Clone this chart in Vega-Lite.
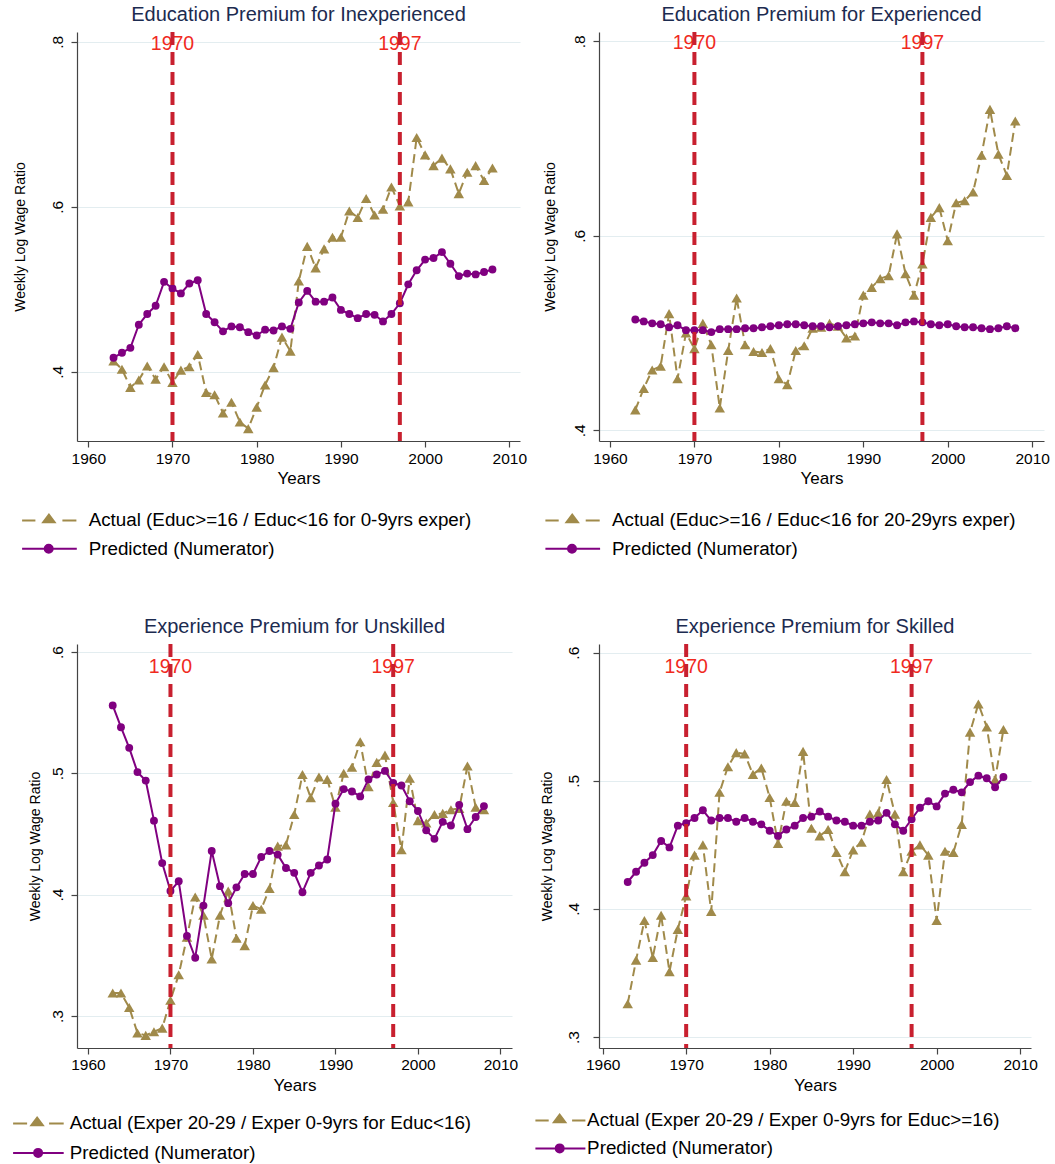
{
  "$schema": "https://vega.github.io/schema/vega-lite/v6.json",
  "background": "white",
  "padding": {"left": 8, "top": 5, "right": 5, "bottom": 5},
  "columns": 2,
  "align": "none",
  "bounds": "flush",
  "spacing": {"row": 203, "column": 79},
  "resolve": {"scale": {"color": "independent"}, "legend": {"color": "independent"}},
  "datasets": {
    "events": [{"year": 1970, "label": "1970"}, {"year": 1997, "label": "1997"}],
    "p1": [
      {"year":1963,"actual":0.413,"predicted":0.417},{"year":1964,"actual":0.403,"predicted":0.423},{"year":1965,"actual":0.381,"predicted":0.429},{"year":1966,"actual":0.390,"predicted":0.457},{"year":1967,"actual":0.407,"predicted":0.470},{"year":1968,"actual":0.391,"predicted":0.480},{"year":1969,"actual":0.406,"predicted":0.509},{"year":1970,"actual":0.387,"predicted":0.501},{"year":1971,"actual":0.402,"predicted":0.495},{"year":1972,"actual":0.406,"predicted":0.507},{"year":1973,"actual":0.421,"predicted":0.511},{"year":1974,"actual":0.375,"predicted":0.470},{"year":1975,"actual":0.372,"predicted":0.460},{"year":1976,"actual":0.350,"predicted":0.449},{"year":1977,"actual":0.363,"predicted":0.455},{"year":1978,"actual":0.339,"predicted":0.454},{"year":1979,"actual":0.331,"predicted":0.448},{"year":1980,"actual":0.357,"predicted":0.444},{"year":1981,"actual":0.384,"predicted":0.451},{"year":1982,"actual":0.405,"predicted":0.450},{"year":1983,"actual":0.442,"predicted":0.455},{"year":1984,"actual":0.425,"predicted":0.452},{"year":1985,"actual":0.510,"predicted":0.484},{"year":1986,"actual":0.552,"predicted":0.498},{"year":1987,"actual":0.526,"predicted":0.485},{"year":1988,"actual":0.549,"predicted":0.485},{"year":1989,"actual":0.563,"predicted":0.490},{"year":1990,"actual":0.563,"predicted":0.475},{"year":1991,"actual":0.595,"predicted":0.470},{"year":1992,"actual":0.587,"predicted":0.465},{"year":1993,"actual":0.610,"predicted":0.470},{"year":1994,"actual":0.590,"predicted":0.469},{"year":1995,"actual":0.597,"predicted":0.461},{"year":1996,"actual":0.624,"predicted":0.470},{"year":1997,"actual":0.601,"predicted":0.483},{"year":1998,"actual":0.606,"predicted":0.506},{"year":1999,"actual":0.684,"predicted":0.523},{"year":2000,"actual":0.663,"predicted":0.536},{"year":2001,"actual":0.650,"predicted":0.538},{"year":2002,"actual":0.659,"predicted":0.545},{"year":2003,"actual":0.646,"predicted":0.531},{"year":2004,"actual":0.616,"predicted":0.516},{"year":2005,"actual":0.642,"predicted":0.519},{"year":2006,"actual":0.650,"predicted":0.518},{"year":2007,"actual":0.632,"predicted":0.521},{"year":2008,"actual":0.647,"predicted":0.524}
    ],
    "p2": [
      {"year":1963,"actual":0.421,"predicted":0.514},{"year":1964,"actual":0.443,"predicted":0.512},{"year":1965,"actual":0.462,"predicted":0.510},{"year":1966,"actual":0.466,"predicted":0.509},{"year":1967,"actual":0.520,"predicted":0.506},{"year":1968,"actual":0.453,"predicted":0.508},{"year":1969,"actual":0.500,"predicted":0.503},{"year":1970,"actual":0.484,"predicted":0.503},{"year":1971,"actual":0.510,"predicted":0.503},{"year":1972,"actual":0.488,"predicted":0.501},{"year":1973,"actual":0.423,"predicted":0.504},{"year":1974,"actual":0.482,"predicted":0.504},{"year":1975,"actual":0.536,"predicted":0.504},{"year":1976,"actual":0.488,"predicted":0.505},{"year":1977,"actual":0.481,"predicted":0.505},{"year":1978,"actual":0.480,"predicted":0.506},{"year":1979,"actual":0.484,"predicted":0.507},{"year":1980,"actual":0.453,"predicted":0.508},{"year":1981,"actual":0.447,"predicted":0.509},{"year":1982,"actual":0.482,"predicted":0.509},{"year":1983,"actual":0.487,"predicted":0.508},{"year":1984,"actual":0.505,"predicted":0.507},{"year":1985,"actual":0.506,"predicted":0.507},{"year":1986,"actual":0.510,"predicted":0.506},{"year":1987,"actual":0.507,"predicted":0.507},{"year":1988,"actual":0.495,"predicted":0.508},{"year":1989,"actual":0.497,"predicted":0.509},{"year":1990,"actual":0.539,"predicted":0.510},{"year":1991,"actual":0.547,"predicted":0.511},{"year":1992,"actual":0.556,"predicted":0.510},{"year":1993,"actual":0.559,"predicted":0.510},{"year":1994,"actual":0.602,"predicted":0.508},{"year":1995,"actual":0.561,"predicted":0.511},{"year":1996,"actual":0.539,"predicted":0.512},{"year":1997,"actual":0.571,"predicted":0.511},{"year":1998,"actual":0.619,"predicted":0.509},{"year":1999,"actual":0.629,"predicted":0.508},{"year":2000,"actual":0.595,"predicted":0.509},{"year":2001,"actual":0.634,"predicted":0.507},{"year":2002,"actual":0.636,"predicted":0.506},{"year":2003,"actual":0.645,"predicted":0.506},{"year":2004,"actual":0.683,"predicted":0.505},{"year":2005,"actual":0.730,"predicted":0.504},{"year":2006,"actual":0.684,"predicted":0.505},{"year":2007,"actual":0.662,"predicted":0.507},{"year":2008,"actual":0.718,"predicted":0.505}
    ],
    "p3": [
      {"year":1963,"actual":0.319,"predicted":0.556},{"year":1964,"actual":0.319,"predicted":0.538},{"year":1965,"actual":0.307,"predicted":0.521},{"year":1966,"actual":0.286,"predicted":0.501},{"year":1967,"actual":0.284,"predicted":0.494},{"year":1968,"actual":0.287,"predicted":0.461},{"year":1969,"actual":0.290,"predicted":0.426},{"year":1970,"actual":0.313,"predicted":0.403},{"year":1971,"actual":0.334,"predicted":0.411},{"year":1972,"actual":0.365,"predicted":0.366},{"year":1973,"actual":0.398,"predicted":0.348},{"year":1974,"actual":0.383,"predicted":0.391},{"year":1975,"actual":0.347,"predicted":0.436},{"year":1976,"actual":0.383,"predicted":0.407},{"year":1977,"actual":0.403,"predicted":0.393},{"year":1978,"actual":0.364,"predicted":0.406},{"year":1979,"actual":0.358,"predicted":0.417},{"year":1980,"actual":0.391,"predicted":0.417},{"year":1981,"actual":0.388,"predicted":0.431},{"year":1982,"actual":0.405,"predicted":0.436},{"year":1983,"actual":0.440,"predicted":0.433},{"year":1984,"actual":0.441,"predicted":0.422},{"year":1985,"actual":0.466,"predicted":0.418},{"year":1986,"actual":0.499,"predicted":0.402},{"year":1987,"actual":0.480,"predicted":0.418},{"year":1988,"actual":0.497,"predicted":0.424},{"year":1989,"actual":0.495,"predicted":0.429},{"year":1990,"actual":0.472,"predicted":0.475},{"year":1991,"actual":0.500,"predicted":0.487},{"year":1992,"actual":0.505,"predicted":0.485},{"year":1993,"actual":0.526,"predicted":0.481},{"year":1994,"actual":0.489,"predicted":0.495},{"year":1995,"actual":0.509,"predicted":0.499},{"year":1996,"actual":0.515,"predicted":0.502},{"year":1997,"actual":0.476,"predicted":0.492},{"year":1998,"actual":0.437,"predicted":0.490},{"year":1999,"actual":0.496,"predicted":0.477},{"year":2000,"actual":0.461,"predicted":0.469},{"year":2001,"actual":0.459,"predicted":0.453},{"year":2002,"actual":0.466,"predicted":0.446},{"year":2003,"actual":0.467,"predicted":0.460},{"year":2004,"actual":0.470,"predicted":0.457},{"year":2005,"actual":0.471,"predicted":0.474},{"year":2006,"actual":0.506,"predicted":0.454},{"year":2007,"actual":0.472,"predicted":0.464},{"year":2008,"actual":0.470,"predicted":0.473}
    ],
    "p4": [
      {"year":1963,"actual":0.326,"predicted":0.421},{"year":1964,"actual":0.360,"predicted":0.429},{"year":1965,"actual":0.391,"predicted":0.436},{"year":1966,"actual":0.362,"predicted":0.442},{"year":1967,"actual":0.395,"predicted":0.453},{"year":1968,"actual":0.351,"predicted":0.448},{"year":1969,"actual":0.384,"predicted":0.465},{"year":1970,"actual":0.410,"predicted":0.467},{"year":1971,"actual":0.442,"predicted":0.471},{"year":1972,"actual":0.450,"predicted":0.477},{"year":1973,"actual":0.398,"predicted":0.469},{"year":1974,"actual":0.491,"predicted":0.471},{"year":1975,"actual":0.511,"predicted":0.471},{"year":1976,"actual":0.522,"predicted":0.468},{"year":1977,"actual":0.521,"predicted":0.471},{"year":1978,"actual":0.505,"predicted":0.468},{"year":1979,"actual":0.510,"predicted":0.466},{"year":1980,"actual":0.487,"predicted":0.461},{"year":1981,"actual":0.451,"predicted":0.457},{"year":1982,"actual":0.484,"predicted":0.462},{"year":1983,"actual":0.483,"predicted":0.465},{"year":1984,"actual":0.523,"predicted":0.471},{"year":1985,"actual":0.463,"predicted":0.472},{"year":1986,"actual":0.457,"predicted":0.476},{"year":1987,"actual":0.462,"predicted":0.472},{"year":1988,"actual":0.444,"predicted":0.469},{"year":1989,"actual":0.429,"predicted":0.468},{"year":1990,"actual":0.446,"predicted":0.465},{"year":1991,"actual":0.452,"predicted":0.465},{"year":1992,"actual":0.474,"predicted":0.468},{"year":1993,"actual":0.475,"predicted":0.469},{"year":1994,"actual":0.501,"predicted":0.475},{"year":1995,"actual":0.474,"predicted":0.466},{"year":1996,"actual":0.429,"predicted":0.461},{"year":1997,"actual":0.445,"predicted":0.470},{"year":1998,"actual":0.450,"predicted":0.479},{"year":1999,"actual":0.442,"predicted":0.484},{"year":2000,"actual":0.391,"predicted":0.480},{"year":2001,"actual":0.445,"predicted":0.490},{"year":2002,"actual":0.444,"predicted":0.493},{"year":2003,"actual":0.466,"predicted":0.491},{"year":2004,"actual":0.538,"predicted":0.499},{"year":2005,"actual":0.560,"predicted":0.504},{"year":2006,"actual":0.542,"predicted":0.502},{"year":2007,"actual":0.501,"predicted":0.495},{"year":2008,"actual":0.540,"predicted":0.503}
    ]
  },
  "concat": [
    {
      "width": 443, "height": 409,
      "title": {"text": "Education Premium for Inexperienced"},
      "layer": [
        {"data": {"name": "p1"}, "transform": [{"fold": ["actual", "predicted"], "as": ["series", "value"]}, {"filter": "datum.series == 'actual'"}],
         "mark": {"type": "line", "strokeDash": [9, 5], "strokeWidth": 2},
         "encoding": {
           "x": {"field": "year", "type": "quantitative", "scale": {"domain": [1958.66, 2011.27], "nice": false, "zero": false}, "axis": {"values": [1960, 1970, 1980, 1990, 2000, 2010], "format": "d", "title": "Years", "labelFlush": false, "labelPadding": 4, "titlePadding": 4}},
           "y": {"field": "value", "type": "quantitative", "scale": {"domain": [0.316, 0.812], "nice": false, "zero": false}, "axis": {"values": [0.4, 0.6, 0.8], "labelExpr": "replace(format(datum.value,'.1f'),'0.','.')", "title": "Weekly Log Wage Ratio", "titlePadding": 23, "labelPadding": 6}},
           "color": {"field": "series", "type": "nominal", "scale": {"domain": ["actual", "predicted"], "range": ["#a08a4a", "#800080"]},
             "legend": {"title": null, "orient": "none", "legendX": -59.3, "legendY": 479, "rowPadding": 8.3, "labelOffset": 52.2,
               "labelExpr": "datum.value == 'actual' ? 'Actual (Educ>=16 / Educ<16 for 0-9yrs exper)' : 'Predicted (Numerator)'",
               "encode": {"symbols": {"update": {
                 "shape": [{"test": "datum.value == 'actual'", "value": "M-1,0H1.66M7.06,0H9.86M4.36,-1.15L5.5,0.38L3.22,0.38Z"}, {"value": "M-1,0H9.94M3.52,0A0.8,0.8,0,1,0,5.12,0A0.8,0.8,0,1,0,3.52,0Z"}],
                 "fill": [{"test": "datum.value == 'actual'", "value": "#a08a4a"}, {"value": "#800080"}],
                 "stroke": [{"test": "datum.value == 'actual'", "value": "#a08a4a"}, {"value": "#800080"}],
                 "strokeWidth": {"value": 2}, "opacity": {"value": 1}, "strokeDash": {"value": []}}}}}}
         }},
        {"data": {"name": "p1"}, "transform": [{"fold": ["actual", "predicted"], "as": ["series", "value"]}, {"filter": "datum.series == 'actual'"}],
         "mark": {"type": "point", "shape": "triangle-up", "filled": true, "size": 110, "opacity": 1},
         "encoding": {"x": {"field": "year", "type": "quantitative"}, "y": {"field": "value", "type": "quantitative"}, "color": {"field": "series", "type": "nominal"}}},
        {"data": {"name": "p1"}, "transform": [{"fold": ["actual", "predicted"], "as": ["series", "value"]}, {"filter": "datum.series == 'predicted'"}],
         "mark": {"type": "line", "strokeWidth": 2},
         "encoding": {"x": {"field": "year", "type": "quantitative"}, "y": {"field": "value", "type": "quantitative"}, "color": {"field": "series", "type": "nominal"}}},
        {"data": {"name": "p1"}, "transform": [{"fold": ["actual", "predicted"], "as": ["series", "value"]}, {"filter": "datum.series == 'predicted'"}],
         "mark": {"type": "point", "shape": "circle", "filled": true, "size": 62, "opacity": 1},
         "encoding": {"x": {"field": "year", "type": "quantitative"}, "y": {"field": "value", "type": "quantitative"}, "color": {"field": "series", "type": "nominal"}}},
        {"data": {"name": "events"}, "mark": {"type": "text", "color": "#f02a1e", "fontSize": 19.5, "align": "center", "baseline": "middle"},
         "encoding": {"x": {"field": "year", "type": "quantitative"}, "y": {"datum": 0.7976, "type": "quantitative"}, "text": {"field": "label"}}},
        {"data": {"name": "events"}, "mark": {"type": "rule", "color": "#c8202f", "strokeWidth": 4, "strokeDash": [13, 7]},
         "encoding": {"x": {"field": "year", "type": "quantitative"}}}
      ]
    },
    {
      "width": 445, "height": 409,
      "title": {"text": "Education Premium for Experienced"},
      "layer": [
        {"data": {"name": "p2"}, "transform": [{"fold": ["actual", "predicted"], "as": ["series", "value"]}, {"filter": "datum.series == 'actual'"}],
         "mark": {"type": "line", "strokeDash": [9, 5], "strokeWidth": 2},
         "encoding": {
           "x": {"field": "year", "type": "quantitative", "scale": {"domain": [1958.7, 2011.4], "nice": false, "zero": false}, "axis": {"values": [1960, 1970, 1980, 1990, 2000, 2010], "format": "d", "title": "Years", "labelFlush": false, "labelPadding": 4, "titlePadding": 4}},
           "y": {"field": "value", "type": "quantitative", "scale": {"domain": [0.389, 0.8096], "nice": false, "zero": false}, "axis": {"values": [0.4, 0.6, 0.8], "labelExpr": "replace(format(datum.value,'.1f'),'0.','.')", "title": "Weekly Log Wage Ratio", "titlePadding": 15, "labelPadding": 6}},
           "color": {"field": "series", "type": "nominal", "scale": {"domain": ["actual", "predicted"], "range": ["#a08a4a", "#800080"]},
             "legend": {"title": null, "orient": "none", "legendX": -58, "legendY": 479, "rowPadding": 8.3, "labelOffset": 52.2,
               "labelExpr": "datum.value == 'actual' ? 'Actual (Educ>=16 / Educ<16 for 20-29yrs exper)' : 'Predicted (Numerator)'",
               "encode": {"symbols": {"update": {
                 "shape": [{"test": "datum.value == 'actual'", "value": "M-1,0H1.66M7.06,0H9.86M4.36,-1.15L5.5,0.38L3.22,0.38Z"}, {"value": "M-1,0H9.94M3.52,0A0.8,0.8,0,1,0,5.12,0A0.8,0.8,0,1,0,3.52,0Z"}],
                 "fill": [{"test": "datum.value == 'actual'", "value": "#a08a4a"}, {"value": "#800080"}],
                 "stroke": [{"test": "datum.value == 'actual'", "value": "#a08a4a"}, {"value": "#800080"}],
                 "strokeWidth": {"value": 2}, "opacity": {"value": 1}, "strokeDash": {"value": []}}}}}}
         }},
        {"data": {"name": "p2"}, "transform": [{"fold": ["actual", "predicted"], "as": ["series", "value"]}, {"filter": "datum.series == 'actual'"}],
         "mark": {"type": "point", "shape": "triangle-up", "filled": true, "size": 110, "opacity": 1},
         "encoding": {"x": {"field": "year", "type": "quantitative"}, "y": {"field": "value", "type": "quantitative"}, "color": {"field": "series", "type": "nominal"}}},
        {"data": {"name": "p2"}, "transform": [{"fold": ["actual", "predicted"], "as": ["series", "value"]}, {"filter": "datum.series == 'predicted'"}],
         "mark": {"type": "line", "strokeWidth": 2},
         "encoding": {"x": {"field": "year", "type": "quantitative"}, "y": {"field": "value", "type": "quantitative"}, "color": {"field": "series", "type": "nominal"}}},
        {"data": {"name": "p2"}, "transform": [{"fold": ["actual", "predicted"], "as": ["series", "value"]}, {"filter": "datum.series == 'predicted'"}],
         "mark": {"type": "point", "shape": "circle", "filled": true, "size": 62, "opacity": 1},
         "encoding": {"x": {"field": "year", "type": "quantitative"}, "y": {"field": "value", "type": "quantitative"}, "color": {"field": "series", "type": "nominal"}}},
        {"data": {"name": "events"}, "mark": {"type": "text", "color": "#f02a1e", "fontSize": 19.5, "align": "center", "baseline": "middle"},
         "encoding": {"x": {"field": "year", "type": "quantitative"}, "y": {"datum": 0.798, "type": "quantitative"}, "text": {"field": "label"}}},
        {"data": {"name": "events"}, "mark": {"type": "rule", "color": "#c8202f", "strokeWidth": 4, "strokeDash": [13, 7]},
         "encoding": {"x": {"field": "year", "type": "quantitative"}}}
      ]
    },
    {
      "width": 435, "height": 404,
      "title": {"text": "Experience Premium for Unskilled"},
      "layer": [
        {"data": {"name": "p3"}, "transform": [{"fold": ["actual", "predicted"], "as": ["series", "value"]}, {"filter": "datum.series == 'actual'"}],
         "mark": {"type": "line", "strokeDash": [9, 5], "strokeWidth": 2},
         "encoding": {
           "x": {"field": "year", "type": "quantitative", "scale": {"domain": [1958.67, 2011.4], "nice": false, "zero": false}, "axis": {"values": [1960, 1970, 1980, 1990, 2000, 2010], "format": "d", "title": "Years", "labelFlush": false, "labelPadding": 3, "titlePadding": 5}},
           "y": {"field": "value", "type": "quantitative", "scale": {"domain": [0.2736, 0.6066], "nice": false, "zero": false}, "axis": {"values": [0.3, 0.4, 0.5, 0.6], "labelExpr": "replace(format(datum.value,'.1f'),'0.','.')", "title": "Weekly Log Wage Ratio", "titlePadding": 8, "labelPadding": 6}},
           "color": {"field": "series", "type": "nominal", "scale": {"domain": ["actual", "predicted"], "range": ["#a08a4a", "#800080"]},
             "legend": {"title": null, "orient": "none", "legendX": -68.3, "legendY": 470, "rowPadding": 9.5, "labelOffset": 42.2,
               "labelExpr": "datum.value == 'actual' ? 'Actual (Exper 20-29 / Exper 0-9yrs for Educ<16)' : 'Predicted (Numerator)'",
               "encode": {"symbols": {"update": {
                 "shape": [{"test": "datum.value == 'actual'", "value": "M-1,0H1.8M6.2,0H9.12M3.8,-1.15L4.94,0.38L2.66,0.38Z"}, {"value": "M-1,0H9.12M3.2,0A0.8,0.8,0,1,0,4.8,0A0.8,0.8,0,1,0,3.2,0Z"}],
                 "fill": [{"test": "datum.value == 'actual'", "value": "#a08a4a"}, {"value": "#800080"}],
                 "stroke": [{"test": "datum.value == 'actual'", "value": "#a08a4a"}, {"value": "#800080"}],
                 "strokeWidth": {"value": 2}, "opacity": {"value": 1}, "strokeDash": {"value": []}}}}}}
         }},
        {"data": {"name": "p3"}, "transform": [{"fold": ["actual", "predicted"], "as": ["series", "value"]}, {"filter": "datum.series == 'actual'"}],
         "mark": {"type": "point", "shape": "triangle-up", "filled": true, "size": 110, "opacity": 1},
         "encoding": {"x": {"field": "year", "type": "quantitative"}, "y": {"field": "value", "type": "quantitative"}, "color": {"field": "series", "type": "nominal"}}},
        {"data": {"name": "p3"}, "transform": [{"fold": ["actual", "predicted"], "as": ["series", "value"]}, {"filter": "datum.series == 'predicted'"}],
         "mark": {"type": "line", "strokeWidth": 2},
         "encoding": {"x": {"field": "year", "type": "quantitative"}, "y": {"field": "value", "type": "quantitative"}, "color": {"field": "series", "type": "nominal"}}},
        {"data": {"name": "p3"}, "transform": [{"fold": ["actual", "predicted"], "as": ["series", "value"]}, {"filter": "datum.series == 'predicted'"}],
         "mark": {"type": "point", "shape": "circle", "filled": true, "size": 62, "opacity": 1},
         "encoding": {"x": {"field": "year", "type": "quantitative"}, "y": {"field": "value", "type": "quantitative"}, "color": {"field": "series", "type": "nominal"}}},
        {"data": {"name": "events"}, "mark": {"type": "text", "color": "#f02a1e", "fontSize": 19.5, "align": "center", "baseline": "middle"},
         "encoding": {"x": {"field": "year", "type": "quantitative"}, "y": {"datum": 0.5876, "type": "quantitative"}, "text": {"field": "label"}}},
        {"data": {"name": "events"}, "mark": {"type": "rule", "color": "#c8202f", "strokeWidth": 4, "strokeDash": [13, 7]},
         "encoding": {"x": {"field": "year", "type": "quantitative"}}}
      ]
    },
    {
      "width": 432, "height": 404,
      "title": {"text": "Experience Premium for Skilled"},
      "layer": [
        {"data": {"name": "p4"}, "transform": [{"fold": ["actual", "predicted"], "as": ["series", "value"]}, {"filter": "datum.series == 'actual'"}],
         "mark": {"type": "line", "strokeDash": [9, 5], "strokeWidth": 2},
         "encoding": {
           "x": {"field": "year", "type": "quantitative", "scale": {"domain": [1959.56, 2011.3], "nice": false, "zero": false}, "axis": {"values": [1960, 1970, 1980, 1990, 2000, 2010], "format": "d", "title": "Years", "labelFlush": false, "labelPadding": 3, "titlePadding": 5}},
           "y": {"field": "value", "type": "quantitative", "scale": {"domain": [0.2914, 0.6068], "nice": false, "zero": false}, "axis": {"values": [0.3, 0.4, 0.5, 0.6], "labelExpr": "replace(format(datum.value,'.1f'),'0.','.')", "title": "Weekly Log Wage Ratio", "titlePadding": 12, "labelPadding": 12}},
           "color": {"field": "series", "type": "nominal", "scale": {"domain": ["actual", "predicted"], "range": ["#a08a4a", "#800080"]},
             "legend": {"title": null, "orient": "none", "legendX": -68, "legendY": 467, "rowPadding": 8, "labelOffset": 37.3,
               "labelExpr": "datum.value == 'actual' ? 'Actual (Exper 20-29 / Exper 0-9yrs for Educ>=16)' : 'Predicted (Numerator)'",
               "encode": {"symbols": {"update": {
                 "shape": [{"test": "datum.value == 'actual'", "value": "M-1,0H1.66M6.34,0H9M3.84,-1.15L4.98,0.38L2.7,0.38Z"}, {"value": "M-1,0H9M3.06,0A0.8,0.8,0,1,0,4.66,0A0.8,0.8,0,1,0,3.06,0Z"}],
                 "fill": [{"test": "datum.value == 'actual'", "value": "#a08a4a"}, {"value": "#800080"}],
                 "stroke": [{"test": "datum.value == 'actual'", "value": "#a08a4a"}, {"value": "#800080"}],
                 "strokeWidth": {"value": 2}, "opacity": {"value": 1}, "strokeDash": {"value": []}}}}}}
         }},
        {"data": {"name": "p4"}, "transform": [{"fold": ["actual", "predicted"], "as": ["series", "value"]}, {"filter": "datum.series == 'actual'"}],
         "mark": {"type": "point", "shape": "triangle-up", "filled": true, "size": 110, "opacity": 1},
         "encoding": {"x": {"field": "year", "type": "quantitative"}, "y": {"field": "value", "type": "quantitative"}, "color": {"field": "series", "type": "nominal"}}},
        {"data": {"name": "p4"}, "transform": [{"fold": ["actual", "predicted"], "as": ["series", "value"]}, {"filter": "datum.series == 'predicted'"}],
         "mark": {"type": "line", "strokeWidth": 2},
         "encoding": {"x": {"field": "year", "type": "quantitative"}, "y": {"field": "value", "type": "quantitative"}, "color": {"field": "series", "type": "nominal"}}},
        {"data": {"name": "p4"}, "transform": [{"fold": ["actual", "predicted"], "as": ["series", "value"]}, {"filter": "datum.series == 'predicted'"}],
         "mark": {"type": "point", "shape": "circle", "filled": true, "size": 62, "opacity": 1},
         "encoding": {"x": {"field": "year", "type": "quantitative"}, "y": {"field": "value", "type": "quantitative"}, "color": {"field": "series", "type": "nominal"}}},
        {"data": {"name": "events"}, "mark": {"type": "text", "color": "#f02a1e", "fontSize": 19.5, "align": "center", "baseline": "middle"},
         "encoding": {"x": {"field": "year", "type": "quantitative"}, "y": {"datum": 0.589, "type": "quantitative"}, "text": {"field": "label"}}},
        {"data": {"name": "events"}, "mark": {"type": "rule", "color": "#c8202f", "strokeWidth": 4, "strokeDash": [13, 7]},
         "encoding": {"x": {"field": "year", "type": "quantitative"}}}
      ]
    }
  ],
  "config": {
    "font": "Liberation Sans",
    "view": {"stroke": null},
    "axis": {"labelFont": "Liberation Sans", "titleFont": "Liberation Sans", "labelFontSize": 15.5, "titleFontSize": 17, "titleFontWeight": "normal", "labelColor": "#000", "titleColor": "#000", "domainColor": "#444", "tickColor": "#444", "tickSize": 6, "domainWidth": 1.2, "tickWidth": 1.2, "grid": false},
    "axisY": {"grid": true, "gridColor": "#e3edf0", "gridWidth": 1.2, "labelAngle": -90, "labelAlign": "center", "labelBaseline": "bottom", "titleFontSize": 14},
    "title": {"font": "Liberation Sans", "fontSize": 20, "fontWeight": "normal", "color": "#1c2b50", "anchor": "middle", "offset": 5},
    "legend": {"labelFont": "Liberation Sans", "labelFontSize": 18.8, "labelColor": "#000", "labelLimit": 0, "symbolSize": 100, "direction": "vertical"}
  }
}
